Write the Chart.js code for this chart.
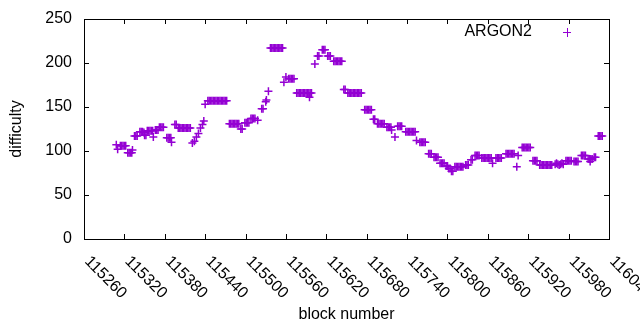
<!DOCTYPE html>
<html lang="en">
<head>
  <meta charset="UTF-8">
  <title>ARGON2 difficulty</title>
  <script src="https://cdn.jsdelivr.net/npm/chart.js"></script>
  <style>
    body { margin: 0; background: #fff; }
    #wrap { width: 640px; height: 330px; }
  </style>
</head>
<body>
  <div id="wrap"><canvas id="chart" width="640" height="330"></canvas></div>

  <script>
    // block numbers and ARGON2 difficulty
    const blocks = [
      115308, 115310,
      115314, 115316, 115318, 115320, 115322,
      115325, 115327, 115329, 115331, 115332,
      115335, 115337, 115339,
      115343, 115345, 115347, 115349, 115350, 115352,
      115354, 115356, 115358, 115360, 115362, 115363,
      115366, 115368, 115370, 115372, 115374, 115376, 115378,
      115383, 115385, 115387, 115389, 115390,
      115395, 115397,
      115400, 115402, 115404, 115406, 115408, 115410, 115412, 115414, 115416, 115418,
      115421, 115424, 115427, 115430, 115433, 115436, 115438, 115440,
      115444, 115446, 115448, 115450, 115452, 115454, 115456, 115458,
      115460, 115462, 115464, 115466, 115468, 115470, 115472,
      115476, 115478, 115480, 115482, 115484, 115486, 115488, 115490,
      115493, 115495, 115499, 115501, 115503, 115505,
      115508, 115510, 115512, 115514, 115518,
      115524, 115526, 115530, 115531, 115534,
      115537, 115539, 115541, 115543, 115545, 115547, 115549, 115551, 115553, 115555,
      115557, 115560, 115564, 115566, 115568, 115570, 115572,
      115576, 115578, 115580, 115582, 115584, 115586,
      115588, 115590, 115592, 115594, 115595, 115596, 115598,
      115603, 115607, 115609, 115614, 115616, 115618,
      115622, 115624, 115626,
      115631, 115633, 115635, 115637, 115639, 115641, 115643,
      115646, 115648, 115652, 115654, 115656, 115658, 115660,
      115662, 115664, 115666, 115668, 115670, 115672,
      115677, 115679, 115681, 115683, 115685, 115687,
      115690, 115692, 115696, 115698, 115700, 115702, 115704, 115706,
      115710, 115712, 115714, 115716, 115717, 115722,
      115726, 115728, 115730, 115732,
      115738, 115740, 115742, 115744, 115746, 115748, 115750, 115752,
      115754, 115759, 115761, 115763, 115765, 115767,
      115772, 115774, 115776, 115780, 115782, 115784, 115786,
      115789, 115791, 115793, 115795, 115798, 115800,
      115802, 115804, 115806, 115808,
      115811, 115813, 115815, 115817, 115819, 115821, 115823,
      115827, 115829, 115831, 115835, 115837,
      115841, 115843, 115845, 115847,
      115851, 115853, 115855, 115857, 115859, 115861, 115863, 115865, 115867,
      115872, 115874, 115876, 115878, 115880,
      115887, 115889, 115891, 115893, 115895, 115897, 115899,
      115903, 115905,
      115911, 115913, 115915, 115917, 115919, 115921, 115923,
      115927, 115929, 115931, 115933,
      115937, 115939, 115941, 115943, 115945, 115947, 115949, 115951, 115953, 115955,
      115960, 115962, 115964, 115966, 115968, 115970, 115972,
      115976, 115978, 115980, 115982, 115984,
      115988, 115990, 115992, 115994,
      115999, 116001, 116003, 116005,
      116009, 116011, 116012, 116013, 116015,
      116018, 116020, 116024, 116026, 116028, 116030
    ];
    const difficulty = [
      107, 102,
      106, 106, 106, 106, 106,
      98, 98, 98, 98, 101,
      117, 117, 117,
      122, 122, 122, 121, 118, 118,
      123, 123, 123, 123, 123, 116,
      124, 124, 124, 127, 127, 127, 127,
      115, 115, 115, 115, 110,
      130, 130,
      126, 126, 126, 126, 126, 126, 126, 126, 126, 126,
      109, 111, 116, 120, 126, 130, 134, 153,
      157, 157, 157, 157, 157, 157, 157, 157,
      157, 157, 157, 157, 157, 157, 157,
      131, 131, 131, 131, 131, 131, 131, 131,
      125, 125, 132, 132, 132, 132,
      137, 137, 137, 137, 135,
      148, 148, 156, 158, 168,
      217, 217, 217, 217, 217, 217, 217, 217, 217, 217,
      178, 184, 182, 182, 182, 182, 182,
      166, 166, 166, 166, 166, 166,
      166, 166, 166, 166, 161, 166, 166,
      199, 208, 208, 215, 215, 215,
      208, 208, 208,
      202, 202, 202, 202, 202, 202, 202,
      170, 170, 166, 166, 166, 166, 166,
      166, 166, 166, 166, 166, 166,
      147, 147, 147, 147, 147, 147,
      136, 136, 131, 131, 131, 131, 131, 131,
      127, 127, 127, 127, 124, 116,
      128, 128, 128, 128,
      122, 122, 122, 122, 122, 122, 122, 122,
      112, 110, 110, 110, 110, 110,
      97, 97, 97, 93, 93, 93, 93,
      86, 86, 86, 86, 83, 83,
      80, 80, 77, 77,
      82, 82, 82, 82, 82, 82, 82,
      84, 84, 84, 90, 90,
      95, 95, 95, 95,
      92, 92, 92, 92, 92, 92, 92, 92, 86,
      92, 92, 92, 92, 92,
      97, 97, 97, 97, 97, 97, 97,
      82, 95,
      104, 104, 104, 104, 104, 104, 104,
      89, 89, 89, 89,
      84, 84, 84, 84, 84, 84, 84, 84, 84, 84,
      85, 86, 85, 84, 85, 86, 85,
      89, 89, 89, 89, 89,
      88, 88, 88, 88,
      95, 95, 95, 95,
      91, 91, 88, 91, 91,
      93, 93, 117, 117, 117, 117
    ];

    const xTicks = [115260, 115320, 115380, 115440, 115500, 115560, 115620,
                    115680, 115740, 115800, 115860, 115920, 115980, 116040];
    const yTicks = [0, 50, 100, 150, 200, 250];

    const PURPLE = '#9400d3';
    const FONT = '"Liberation Sans", Arial, sans-serif';

    // gnuplot-like frame: box border, inward ticks, rotated x labels, key
    const gnuFrame = {
      id: 'gnuFrame',
      afterDraw(chart) {
        const { ctx, chartArea: a } = chart;
        const xs = chart.scales.x, ys = chart.scales.y;
        ctx.save();
        ctx.strokeStyle = '#000';
        ctx.lineWidth = 1;
        ctx.strokeRect(a.left + 0.5, a.top + 0.5, a.right - a.left, a.bottom - a.top);

        ctx.beginPath();
        xTicks.forEach(v => {
          if (v > xs.max) return;
          const px = Math.round(xs.getPixelForValue(v)) + 0.5;
          ctx.moveTo(px, a.bottom); ctx.lineTo(px, a.bottom - 5);
          ctx.moveTo(px, a.top); ctx.lineTo(px, a.top + 5);
        });
        yTicks.forEach(v => {
          const py = Math.round(ys.getPixelForValue(v)) + 0.5;
          ctx.moveTo(a.left, py); ctx.lineTo(a.left + 5, py);
          ctx.moveTo(a.right, py); ctx.lineTo(a.right - 5, py);
        });
        ctx.stroke();

        ctx.fillStyle = '#000';
        ctx.font = '16px ' + FONT;

        // y tick labels
        ctx.textAlign = 'right';
        ctx.textBaseline = 'middle';
        yTicks.forEach(v => {
          ctx.fillText(String(v), a.left - 12, ys.getPixelForValue(v));
        });

        // x tick labels, rotated clockwise
        ctx.textAlign = 'left';
        xTicks.forEach(v => {
          const px = xs.getPixelForValue(v);
          ctx.save();
          ctx.translate(px + 3, a.bottom + 20);
          ctx.rotate(Math.PI / 4);
          ctx.fillText(String(v), 0, 0);
          ctx.restore();
        });

        // axis titles
        ctx.textAlign = 'center';
        ctx.fillText('block number', (a.left + a.right) / 2, 315);
        ctx.save();
        ctx.translate(17, (a.top + a.bottom) / 2);
        ctx.rotate(-Math.PI / 2);
        ctx.fillText('difficulty', 0, 0);
        ctx.restore();

        // key
        const ds = chart.data.datasets[0];
        ctx.textAlign = 'right';
        ctx.fillText(ds.label, 532, 32);
        ctx.strokeStyle = PURPLE;
        ctx.beginPath();
        ctx.moveTo(563, 32.5); ctx.lineTo(571, 32.5);
        ctx.moveTo(567.5, 28); ctx.lineTo(567.5, 37);
        ctx.stroke();
        ctx.restore();
      }
    };

    new Chart(document.getElementById('chart'), {
      type: 'scatter',
      data: {
        datasets: [{
          label: 'ARGON2',
          data: blocks.map((b, i) => ({ x: b, y: difficulty[i] })),
          pointStyle: 'cross',
          pointRadius: 4,
          pointHoverRadius: 4,
          borderWidth: 1.5,
          borderColor: PURPLE,
          backgroundColor: PURPLE
        }]
      },
      options: {
        responsive: false,
        animation: false,
        layout: { padding: { left: 84, right: 31, top: 19, bottom: 91 } },
        plugins: { legend: { display: false }, tooltip: { enabled: false } },
        scales: {
          x: { type: 'linear', display: false, min: 115260, max: 116040 },
          y: { display: false, min: 0, max: 250 }
        }
      },
      plugins: [gnuFrame]
    });
  </script>
</body>
</html>
